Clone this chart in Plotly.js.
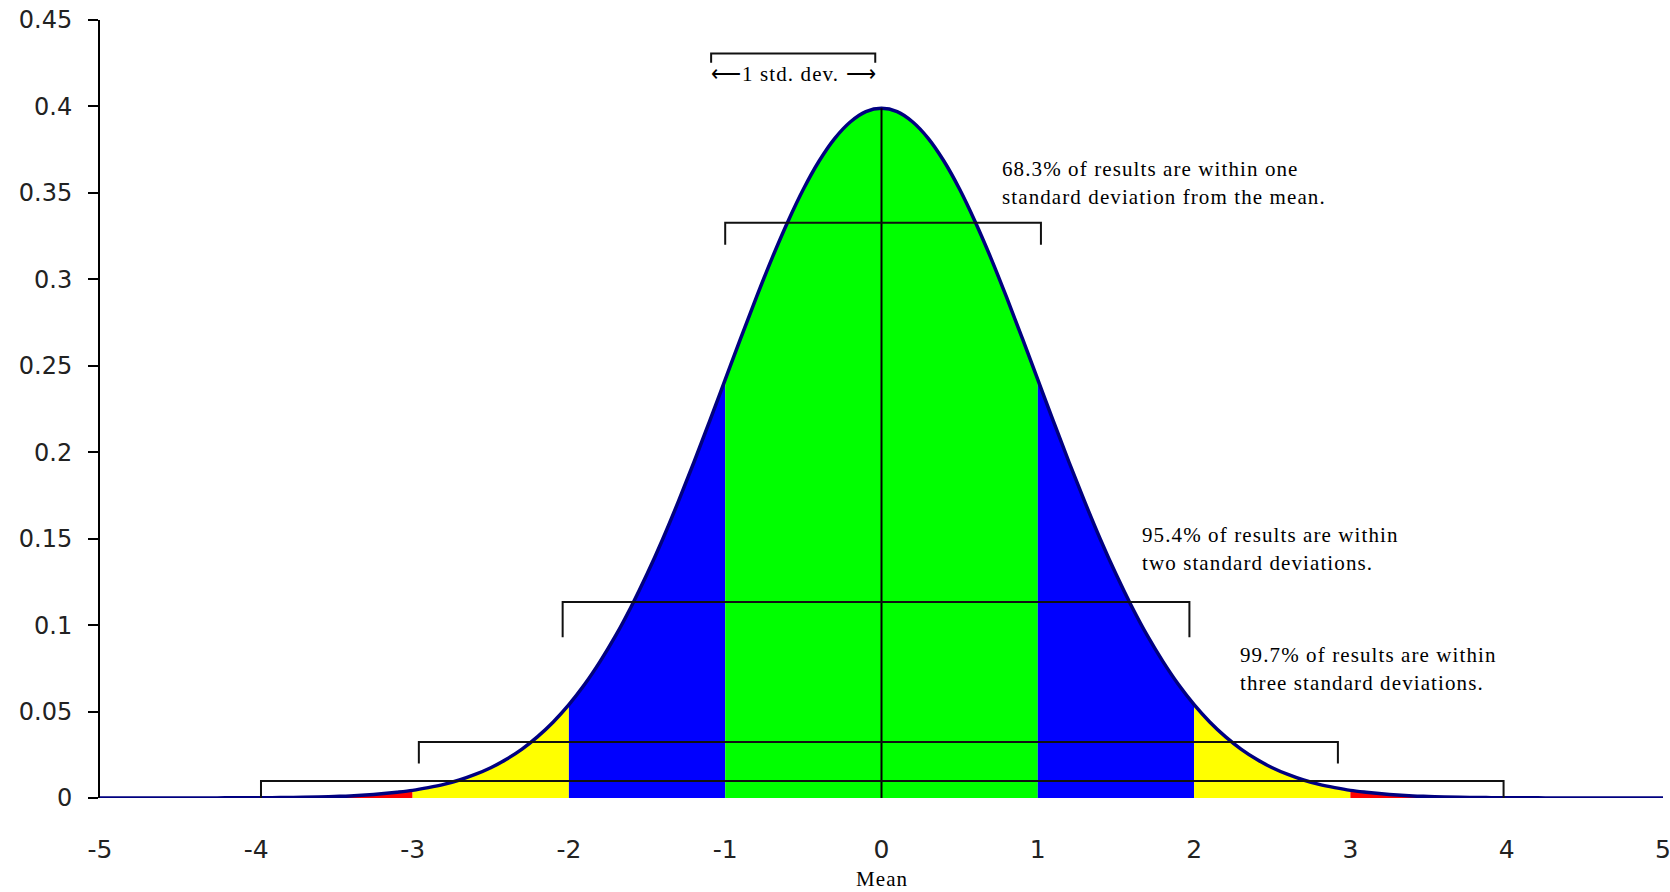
<!DOCTYPE html>
<html>
<head>
<meta charset="utf-8">
<script src="https://cdn.plot.ly/plotly-3.0.1.min.js"></script>
<style>html,body{margin:0;padding:0;background:#fff;}#chart{width:1670px;height:892px;}</style>
</head>
<body>
<div id="chart"></div>
<script>
// Standard deviations from the mean (x) and density (y)
const xValues = [-5.0,-4.9,-4.8,-4.7,-4.6,-4.5,-4.4,-4.3,-4.2,-4.1,-4.0,-3.9,-3.8,-3.7,-3.6,-3.5,-3.4,-3.3,-3.2,-3.1,-3.0,-2.9,-2.8,-2.7,-2.6,-2.5,-2.4,-2.3,-2.2,-2.1,-2.0,-1.9,-1.8,-1.7,-1.6,-1.5,-1.4,-1.3,-1.2,-1.1,-1.0,-0.9,-0.8,-0.7,-0.6,-0.5,-0.4,-0.3,-0.2,-0.1,0.0,0.1,0.2,0.3,0.4,0.5,0.6,0.7,0.8,0.9,1.0,1.1,1.2,1.3,1.4,1.5,1.6,1.7,1.8,1.9,2.0,2.1,2.2,2.3,2.4,2.5,2.6,2.7,2.8,2.9,3.0,3.1,3.2,3.3,3.4,3.5,3.6,3.7,3.8,3.9,4.0,4.1,4.2,4.3,4.4,4.5,4.6,4.7,4.8,4.9,5.0];
const density = [0.0000,0.0000,0.0000,0.0000,0.0000,0.0000,0.0000,0.0000,0.0001,0.0001,0.0001,0.0002,0.0003,0.0004,0.0006,0.0009,0.0012,0.0017,0.0024,0.0033,0.0044,0.0060,0.0079,0.0104,0.0136,0.0175,0.0224,0.0283,0.0355,0.0440,0.0540,0.0656,0.0790,0.0940,0.1109,0.1295,0.1497,0.1714,0.1942,0.2179,0.2420,0.2661,0.2897,0.3123,0.3332,0.3521,0.3683,0.3814,0.3910,0.3970,0.3989,0.3970,0.3910,0.3814,0.3683,0.3521,0.3332,0.3123,0.2897,0.2661,0.2420,0.2179,0.1942,0.1714,0.1497,0.1295,0.1109,0.0940,0.0790,0.0656,0.0540,0.0440,0.0355,0.0283,0.0224,0.0175,0.0136,0.0104,0.0079,0.0060,0.0044,0.0033,0.0024,0.0017,0.0012,0.0009,0.0006,0.0004,0.0003,0.0002,0.0001,0.0001,0.0001,0.0000,0.0000,0.0000,0.0000,0.0000,0.0000,0.0000,0.0000];

// Shaded bands: [from, to] in standard deviations
const bandRanges = [[-5,-3],[-3,-2],[-2,-1],[-1,1],[1,2],[2,3],[3,5]];
const bandColors = ['#FF0000','#FFFF00','#0000FF','#00FF00','#0000FF','#FFFF00','#FF0000'];

// Brackets: left x, right x, top y, bottom y of the end ticks
const bracketLeft  = [-1.09, -1.0, -2.04, -2.96, -3.97];
const bracketRight = [-0.04,  1.02,  1.97,  2.92,  3.98];
const bracketTop   = [0.4306, 0.3328, 0.1134, 0.0324, 0.0098];
const bracketEnd   = [0.4253, 0.3200, 0.0930, 0.0200, 0.0000];

// Axis ticks
const xTickVals = [-5,-4,-3,-2,-1,0,1,2,3,4,5];
const xTickText = ['-5','-4','-3','-2','-1','0','1','2','3','4','5'];
const yTickVals = [0,0.05,0.1,0.15,0.2,0.25,0.3,0.35,0.4,0.45];
const yTickText = ['0','0.05','0.1','0.15','0.2','0.25','0.3','0.35','0.4','0.45'];

// Text labels (one entry per line)
const noteLines = ['68.3% of results are within one', 'standard deviation from the mean.',
                   '95.4% of results are within', 'two standard deviations.',
                   '99.7% of results are within', 'three standard deviations.'];
const noteX = [0.755, 0.755, 1.652, 1.652, 2.279, 2.279];
const noteY = [0.3637, 0.3475, 0.1520, 0.1358, 0.0825, 0.0668];
const stdLabel = '\u27F51 std. dev. \u27F6';
const stdLabelX = -0.563, stdLabelY = 0.4186;
const meanLabel = 'Mean';
const meanLabelPaperY = -0.104;
const meanX = 0;

const traces = [];
bandRanges.forEach((r, i) => {
  const bx = [], by = [];
  xValues.forEach((x, k) => {
    if (x >= r[0] - 1e-9 && x <= r[1] + 1e-9) { bx.push(x); by.push(density[k]); }
  });
  traces.push({x: bx, y: by, type: 'scatter', mode: 'lines', fill: 'tozeroy',
    fillcolor: bandColors[i], line: {width: 0, color: bandColors[i], shape: 'spline', smoothing: 1},
    hoverinfo: 'skip', showlegend: false});
});
// curve outline
traces.push({x: xValues, y: density, type: 'scatter', mode: 'lines',
  line: {color: '#000080', width: 3.5, shape: 'spline', smoothing: 1}, hoverinfo: 'skip', showlegend: false});
// mean line
const peak = Math.max(...density);
traces.push({x: [meanX, meanX], y: [0, peak], type: 'scatter', mode: 'lines',
  line: {color: '#000000', width: 2}, hoverinfo: 'skip', showlegend: false});
// brackets
bracketLeft.forEach((l, i) => {
  traces.push({x: [l, l, bracketRight[i], bracketRight[i]],
    y: [bracketEnd[i], bracketTop[i], bracketTop[i], bracketEnd[i]],
    type: 'scatter', mode: 'lines', line: {color: '#111111', width: 2},
    hoverinfo: 'skip', showlegend: false});
});

const serif = {family: 'Liberation Serif, Times New Roman, serif', size: 21, color: '#000'};
const spaced = t => '<span style="letter-spacing:1.1px">' + t + '</span>';
const annotations = noteLines.map((t, i) => ({
  x: noteX[i], y: noteY[i], xref: 'x', yref: 'y', text: spaced(t), showarrow: false,
  xanchor: 'left', yanchor: 'middle', align: 'left', font: serif
}));
annotations.push({x: stdLabelX, y: stdLabelY, xref: 'x', yref: 'y', text: spaced(stdLabel),
  showarrow: false, xanchor: 'center', yanchor: 'middle', font: serif});
annotations.push({x: meanX, y: meanLabelPaperY, xref: 'x', yref: 'paper', text: spaced(meanLabel),
  showarrow: false, xanchor: 'center', yanchor: 'middle', font: serif});

const layout = {
  width: 1670, height: 892,
  margin: {l: 100, r: 7, t: 20, b: 94},
  paper_bgcolor: '#fff', plot_bgcolor: '#fff',
  showlegend: false,
  xaxis: {range: [-5, 5], tickvals: xTickVals, ticktext: xTickText, showgrid: false,
    zeroline: false, showline: false, ticks: '', ticklabelstandoff: 34, ticklabeloverflow: 'allow',
    tickfont: {family: 'DejaVu Sans, sans-serif', size: 25, color: '#222'}},
  yaxis: {range: [0, 0.45], tickvals: yTickVals, ticktext: yTickText, showgrid: false,
    zeroline: false, showline: true, linecolor: '#000', linewidth: 2,
    ticks: 'outside', ticklen: 10, tickwidth: 2, tickcolor: '#000', ticklabelstandoff: 11,
    tickfont: {family: 'DejaVu Sans, sans-serif', size: 24, color: '#222'}},
  annotations: annotations
};

Plotly.newPlot('chart', traces, layout, {staticPlot: true, displayModeBar: false});
</script>
</body>
</html>
